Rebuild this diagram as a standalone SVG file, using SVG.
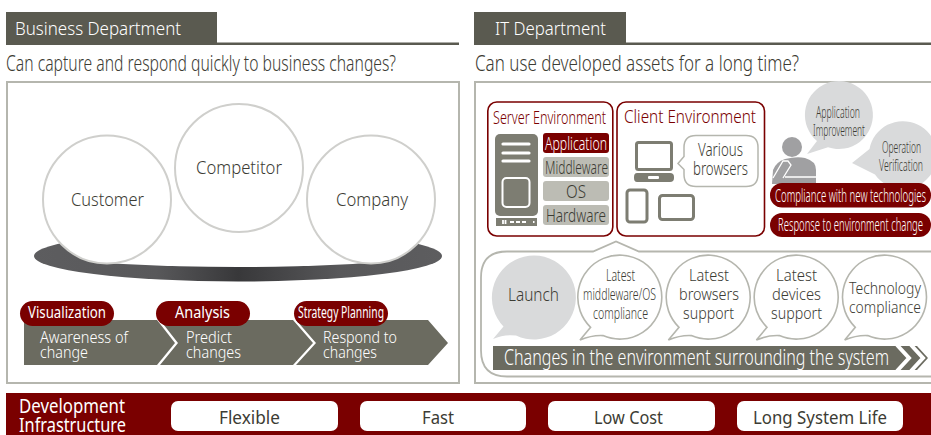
<svg xmlns="http://www.w3.org/2000/svg" width="931" height="435" viewBox="0 0 931 435">
<style>
text{font-family:"Noto Sans","Liberation Sans",sans-serif;fill:#3c3c34;white-space:pre;font-weight:300}
.w{fill:#fff}.r{fill:#7a0000}
.n{font-weight:400}
.s15{font-size:15px}.s16{font-size:16px}.s17{font-size:17px}.s18{font-size:18px}.s19{font-size:19px}.s21{font-size:21px}.s22{font-size:22px}
.panel{fill:#fff;stroke:#b5b6ae;stroke-width:2}
.hdr{fill:#5a5a50}
.circ{fill:#fff;stroke:#cfcfcc;stroke-width:2}
.chev{fill:#6b6b60}
.pill{fill:#7a0000}
.env{fill:#fff;stroke:#7a0000;stroke-width:1.6}
.lay{fill:#bcbcb4}
.ico{fill:#7d7d72}
.icoL{fill:#fff;stroke:#7d7d72;stroke-width:3}
.gb{fill:#d9dadb}
.ob{fill:#fff;stroke:#b5b6ae;stroke-width:1.6}
.btn{fill:#fff}
</style>
<defs>
<linearGradient id="disc" x1="0" x2="1" y1="0" y2="0"><stop offset="0" stop-color="#5d5d5f"/><stop offset=".3" stop-color="#58585a"/><stop offset=".5" stop-color="#38383a"/><stop offset=".75" stop-color="#58585a"/><stop offset="1" stop-color="#5d5d5f"/></linearGradient>
<clipPath id="mid"><rect x="107" y="200" width="264" height="100"/></clipPath>
</defs>
<g id="business-header">
<rect class="hdr" x="6" y="12" width="211" height="33"/><rect class="hdr" x="6" y="42.5" width="453" height="2.5"/>
<text class="w s19" x="15" y="35" textLength="166" lengthAdjust="spacingAndGlyphs">Business Department</text>
</g>
<text class="s21" x="6" y="71" textLength="390" lengthAdjust="spacingAndGlyphs">Can capture and respond quickly to business changes?</text>
<rect id="business-panel" class="panel" x="7" y="82" width="452" height="301"/>
<g id="disc-base">
<ellipse cx="238" cy="256" rx="204" ry="25.5" fill="url(#disc)"/>
<ellipse cx="238" cy="227" rx="300" ry="40" fill="#fff" clip-path="url(#mid)"/>
</g>
<g id="customer"><circle class="circ" cx="107" cy="199.5" r="64"/><text class="s19" x="71" y="206" textLength="73" lengthAdjust="spacingAndGlyphs">Customer</text></g>
<g id="competitor"><circle class="circ" cx="239" cy="168" r="64"/><text class="s19" x="196" y="174" textLength="86" lengthAdjust="spacingAndGlyphs">Competitor</text></g>
<g id="company"><circle class="circ" cx="371" cy="199.5" r="64"/><text class="s19" x="336" y="206" textLength="72" lengthAdjust="spacingAndGlyphs">Company</text></g>
<g id="step-awareness">
<polygon class="chev" points="24,320 157,320 175,343 157,365 24,365"/>
<rect class="pill" x="20" y="301" width="94" height="25" rx="12.5"/>
<text class="w n s16" x="28" y="318" textLength="78" lengthAdjust="spacingAndGlyphs">Visualization</text>
<text class="w s16" x="40" y="343" textLength="88" lengthAdjust="spacingAndGlyphs">Awareness of</text>
<text class="w s16" x="40" y="358" textLength="48" lengthAdjust="spacingAndGlyphs">change</text>
</g>
<g id="step-predict">
<polygon class="chev" points="160,320 293,320 313,343 293,365 160,365 178,343"/>
<rect class="pill" x="156" y="301" width="94" height="25" rx="12.5"/>
<text class="w n s16" x="175" y="318" textLength="55" lengthAdjust="spacingAndGlyphs">Analysis</text>
<text class="w s16" x="186" y="343" textLength="46" lengthAdjust="spacingAndGlyphs">Predict</text>
<text class="w s16" x="186" y="358" textLength="55" lengthAdjust="spacingAndGlyphs">changes</text>
</g>
<g id="step-respond">
<polygon class="chev" points="296,320 428,320 448,343 428,365 296,365 316,343"/>
<rect class="pill" x="294" y="301" width="94" height="25" rx="12.5"/>
<text class="w n s16" x="298" y="318" textLength="86" lengthAdjust="spacingAndGlyphs">Strategy Planning</text>
<text class="w s16" x="323" y="343" textLength="74" lengthAdjust="spacingAndGlyphs">Respond to</text>
<text class="w s16" x="323" y="358" textLength="54" lengthAdjust="spacingAndGlyphs">changes</text>
</g>
<g id="it-header">
<rect class="hdr" x="474" y="12" width="152" height="33"/><rect class="hdr" x="474" y="42.5" width="457" height="2.5"/>
<text class="w s19" x="495" y="35" textLength="111" lengthAdjust="spacingAndGlyphs">IT Department</text>
</g>
<text class="s21" x="475" y="71" textLength="324" lengthAdjust="spacingAndGlyphs">Can use developed assets for a long time?</text>
<rect id="it-panel" class="panel" x="475" y="82" width="470" height="301"/>
<g id="server-environment">
<rect class="env" x="487.8" y="102" width="125" height="134" rx="9"/>
<text class="r s18" x="493" y="124" textLength="113" lengthAdjust="spacingAndGlyphs">Server Environment</text>
<rect class="ico" x="495" y="134" width="43" height="82" rx="5"/>
<path d="M503 144h26M503 153h26M503 161h26" stroke="#fff" stroke-width="3.2" stroke-linecap="round" fill="none"/>
<rect x="502.5" y="178" width="27" height="29" rx="4" fill="#7d7d72" stroke="#fff" stroke-width="2"/>
<rect class="ico" x="496" y="218" width="41" height="8"/>
<path d="M503 220v4M505.500 220v4M510 222h4M516 222h4M522 222h4M533 222h1.500" stroke="#fff" stroke-width="1.800" fill="none"/>
<rect class="r" x="543" y="133" width="66" height="20" rx="3"/>
<text class="w s19" x="545" y="150" textLength="62" lengthAdjust="spacingAndGlyphs">Application</text>
<rect class="lay" x="543" y="157" width="66" height="20" rx="3"/>
<text class="s19" x="545" y="174" textLength="63" lengthAdjust="spacingAndGlyphs">Middleware</text>
<rect class="lay" x="543" y="181" width="66" height="20" rx="3"/>
<text class="s19" x="566" y="198" textLength="20" lengthAdjust="spacingAndGlyphs">OS</text>
<rect class="lay" x="543" y="205" width="66" height="20" rx="3"/>
<text class="s19" x="546" y="222" textLength="60" lengthAdjust="spacingAndGlyphs">Hardware</text>
</g>
<g id="client-environment">
<rect class="env" x="617" y="102" width="147.500" height="134" rx="9"/>
<text class="r s18" x="624" y="123" textLength="132" lengthAdjust="spacingAndGlyphs">Client Environment</text>
<rect class="icoL" x="636.500" y="142.500" width="35" height="27" rx="2"/>
<path class="ico" d="M637 173h33q4 0 4 4v1q0 4-4 4h-33q-3 0-3-4v-1q0-4 3-4z"/>
<rect x="648" y="176" width="11" height="3" fill="#fff" rx="1"/>
<rect class="icoL" x="627" y="190" width="20" height="32" rx="3" stroke-width="4"/>
<rect class="icoL" x="659.500" y="195.500" width="34" height="24" rx="3"/>
<path d="M696 135.500h50q12 0 12 12v27q0 12-12 12h-50q-12 0-12-12v-5l-6-6 6-7v-9q0-12 12-12z" fill="#fff" stroke="#b5b6ae" stroke-width="1.500"/>
<text class="s18" x="698" y="156" textLength="45" lengthAdjust="spacingAndGlyphs">Various</text>
<text class="s18" x="693" y="175" textLength="55" lengthAdjust="spacingAndGlyphs">browsers</text>
</g>
<g id="it-person">
<circle cx="792" cy="147" r="10" fill="#a0a0a2"/>
<path d="M773 170q3-8 12-11q12-3 20-1q11 3 11 12v14h-44z" fill="#a0a0a2"/>
<path d="M773 178l10-17h5l3 4-8 13M785 177h31" stroke="#fff" stroke-width="1.300" fill="none"/>
<path class="gb" d="M807 154L817 141A34 34 0 1 1 828 147.200z"/>
<path class="gb" d="M852 163L869.500 149A34 34 0 1 1 875 174.500z"/>
<text class="s17" x="816" y="118" textLength="44" lengthAdjust="spacingAndGlyphs">Application</text>
<text class="s17" x="813" y="136" textLength="52" lengthAdjust="spacingAndGlyphs">Improvement</text>
<text class="s17" x="882" y="153" textLength="39" lengthAdjust="spacingAndGlyphs">Operation</text>
<text class="s17" x="879" y="171" textLength="44" lengthAdjust="spacingAndGlyphs">Verification</text>
<rect class="pill" x="770" y="183" width="161" height="24.500" rx="12"/>
<rect class="pill" x="770" y="213" width="161" height="24" rx="12"/>
<text class="w s18" x="775" y="201.500" textLength="151" lengthAdjust="spacingAndGlyphs">Compliance with new technologies</text>
<text class="w s18" x="778" y="231" textLength="145" lengthAdjust="spacingAndGlyphs">Response to environment change</text>
</g>
<g id="lifecycle">
<path d="M507 251.500h86l23-10 23 10h310v125h-442q-26 0-26-26v-73q0-26 26-26z" fill="#fff" stroke="#b5b6ae" stroke-width="1.800"/>
<path class="gb" d="M493 339L503.500 326.500A42 42 0 1 1 516 335.500Q504 334 493 339z"/>
<text class="s19" x="508" y="301" textLength="51" lengthAdjust="spacingAndGlyphs">Launch</text>
<g id="bubble-middleware"><path class="ob" d="M580 340L590.600 327.300A42 42 0 1 1 603 335.600Q592 335 580 340z"/>
<text class="s17" x="606" y="281" textLength="29" lengthAdjust="spacingAndGlyphs">Latest</text>
<text class="s17" x="583" y="300" textLength="73" lengthAdjust="spacingAndGlyphs">middleware/OS</text>
<text class="s17" x="593" y="319" textLength="55" lengthAdjust="spacingAndGlyphs">compliance</text></g>
<g id="bubble-browsers"><path class="ob" d="M668.400 340L679 327.300A42 42 0 1 1 691.400 335.600Q680.400 335 668.400 340z"/>
<text class="s17" x="689" y="281" textLength="40" lengthAdjust="spacingAndGlyphs">Latest</text>
<text class="s17" x="679" y="300" textLength="60" lengthAdjust="spacingAndGlyphs">browsers</text>
<text class="s17" x="683" y="319" textLength="51" lengthAdjust="spacingAndGlyphs">support</text></g>
<g id="bubble-devices"><path class="ob" d="M756.400 340L767 327.300A42 42 0 1 1 779.400 335.600Q768.400 335 756.400 340z"/>
<text class="s17" x="776" y="281" textLength="41" lengthAdjust="spacingAndGlyphs">Latest</text>
<text class="s17" x="772" y="300" textLength="49" lengthAdjust="spacingAndGlyphs">devices</text>
<text class="s17" x="771" y="319" textLength="51" lengthAdjust="spacingAndGlyphs">support</text></g>
<g id="bubble-technology"><path class="ob" d="M844.700 340L855.300 327.300A42 42 0 1 1 867.700 335.600Q856.700 335 844.700 340z"/>
<text class="s17" x="849" y="294" textLength="72" lengthAdjust="spacingAndGlyphs">Technology</text>
<text class="s17" x="849" y="313" textLength="72" lengthAdjust="spacingAndGlyphs">compliance</text></g>
<polygon class="chev" points="493,346 917,346 928,358 917,370 493,370"/>
<path d="M897 345l12 13-12 13M911 345l12 13-12 13" stroke="#fff" stroke-width="4" fill="none"/>
<text class="w s22" x="504" y="365" textLength="385" lengthAdjust="spacingAndGlyphs">Changes in the environment surrounding the system</text>
</g>
<g id="infrastructure">
<rect x="6" y="393" width="925" height="42" fill="#7a0000"/>
<text class="w n s19" x="19" y="413" textLength="106" lengthAdjust="spacingAndGlyphs">Development</text>
<text class="w n s19" x="19" y="431.500" textLength="107" lengthAdjust="spacingAndGlyphs">Infrastructure</text>
<g id="flexible"><rect class="btn" x="171" y="401" width="167" height="30" rx="7"/><text class="n s18" x="219" y="424" textLength="61" lengthAdjust="spacingAndGlyphs">Flexible</text></g>
<g id="fast"><rect class="btn" x="360" y="401" width="166" height="30" rx="7"/><text class="n s18" x="422" y="424" textLength="32" lengthAdjust="spacingAndGlyphs">Fast</text></g>
<g id="low-cost"><rect class="btn" x="548" y="401" width="167" height="30" rx="7"/><text class="n s18" x="594" y="424" textLength="69" lengthAdjust="spacingAndGlyphs">Low Cost</text></g>
<g id="long-life"><rect class="btn" x="737" y="401" width="166" height="30" rx="7"/><text class="n s18" x="753" y="424" textLength="134" lengthAdjust="spacingAndGlyphs">Long System Life</text></g>
</g>
</svg>
